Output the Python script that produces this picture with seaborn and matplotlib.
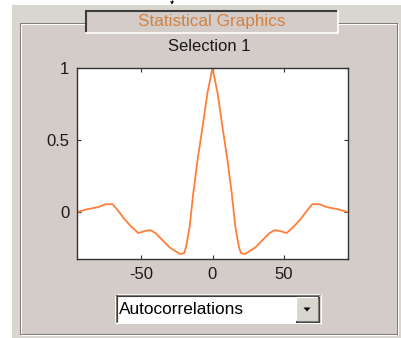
import matplotlib
matplotlib.use("Agg")
import matplotlib.pyplot as plt
import numpy as np
import pandas as pd
import seaborn as sns
from matplotlib.patches import Rectangle, Polygon
from matplotlib.lines import Line2D

# ---- data ----
lags = [-95, -88, -80, -75, -70, -67, -62, -57, -52, -47, -43.5, -40, -35, -30, -26,
        -23, -20, -18.5, -16, -13.5, -10.5, -7, -3.5, 0, 3.5, 7, 10.5, 13.5, 16,
        18.5, 20, 23, 26, 30, 35, 40, 43.5, 47, 52, 57, 62, 67, 70, 75, 80, 88, 95]
acf = [0.0, 0.02, 0.035, 0.055, 0.055, 0.02, -0.045, -0.10, -0.145, -0.13, -0.125,
       -0.145, -0.195, -0.245, -0.27, -0.29, -0.285, -0.24, -0.10, 0.13, 0.36, 0.59,
       0.83, 1.0, 0.83, 0.59, 0.36, 0.13, -0.10, -0.24, -0.285, -0.29, -0.27, -0.245,
       -0.195, -0.145, -0.125, -0.13, -0.145, -0.10, -0.045, 0.02, 0.055, 0.055,
       0.035, 0.02, 0.0]
xticks = [-50, 0, 50]
xticklabels = ["-50", "0", "50"]
yticks = [0, 0.5, 1]
yticklabels = ["0", "0.5", "1"]
title_text = "Statistical Graphics"
axes_title = "Selection 1"
menu_text = "Autocorrelations"

W, H = 401, 338
plt.rcParams["font.family"] = ["Liberation Sans", "DejaVu Sans"]

fig = plt.figure(figsize=(W / 100, H / 100), dpi=100)
fig.patch.set_facecolor("white")

def fx(x):
    return x / W

def fy(y):
    return 1 - y / H

def rect(x0, y0, x1, y1, fc, ec="none", lw=0, z=0):
    fig.patches.append(Rectangle((fx(x0), fy(y1)), fx(x1) - fx(x0), fy(y0) - fy(y1),
                                 transform=fig.transFigure, facecolor=fc, edgecolor=ec,
                                 linewidth=lw, zorder=z))

def hline(x0, x1, y, c, lw=0.75, z=1):
    fig.lines.append(Line2D([fx(x0), fx(x1)], [fy(y), fy(y)], transform=fig.transFigure,
                            color=c, linewidth=lw, zorder=z, solid_capstyle="butt"))

def vline(x, y0, y1, c, lw=0.75, z=1):
    fig.lines.append(Line2D([fx(x), fx(x)], [fy(y0), fy(y1)], transform=fig.transFigure,
                            color=c, linewidth=lw, zorder=z, solid_capstyle="butt"))

outer_gray = "#d9d5cf"
panel_gray = "#d3ccc8"
dark = "#7f7b78"
darker = "#3c3c3c"

# GUI background
rect(12, 5, 401, 338, outer_gray, z=-3)
rect(20, 23, 398, 335, panel_gray, z=-2)
# etched panel border
hline(20, 398, 22.5, dark); hline(21, 397, 23.8, "white")
vline(19.5, 22.5, 335, dark); vline(20.8, 23.8, 334, "white")
hline(20, 398, 333.5, dark); hline(20, 398, 335, "white")
vline(397, 22.5, 335, dark); vline(398.3, 22.5, 335.5, "white")

# title box
rect(85, 10, 338, 33, panel_gray, z=2)
hline(85, 338, 10.5, darker, lw=1.5, z=3)
vline(85.5, 10, 33, darker, lw=1.5, z=3)
hline(85, 338, 33, "white", lw=1.2, z=3)
vline(338, 10, 33.5, "white", lw=1.2, z=3)
fig.text(fx(211.5), fy(21.5), title_text, ha="center", va="center", fontsize=12.3,
         color="#d4823f", zorder=4)

# little arrow at top
vline(172, 0, 2, "black", lw=1.0, z=3)
fig.patches.append(Polygon([(fx(170), fy(1.5)), (fx(174), fy(1.5)), (fx(172), fy(4.5))],
                           closed=True, transform=fig.transFigure, facecolor="black",
                           edgecolor="none", zorder=3))

# axes title
fig.text(fx(209), fy(46.5), axes_title, ha="center", va="center", fontsize=12,
         color="#1a1a1a")

# dropdown
rect(115, 294, 320, 323, "white", z=2)
hline(115, 320, 294.5, dark, lw=0.8, z=3)
hline(116, 319, 295.6, darker, lw=0.8, z=3)
vline(115.5, 294, 323, dark, lw=0.8, z=3)
vline(116.6, 295, 322, darker, lw=0.8, z=3)
hline(115, 320.5, 323, "white", lw=0.8, z=3)
vline(320.5, 294, 323.5, "white", lw=0.8, z=3)
fig.text(fx(118.5), fy(309), menu_text, ha="left", va="center", fontsize=12.4,
         color="black", zorder=4)
# button
rect(296, 297, 319, 322, outer_gray, z=3)
hline(296, 319, 297.3, "white", lw=0.9, z=4)
vline(296.3, 297, 322, "white", lw=0.9, z=4)
hline(296, 319.5, 321.6, darker, lw=1.4, z=4)
vline(318.9, 297, 322, darker, lw=1.4, z=4)
hline(297, 318, 320.5, dark, lw=0.8, z=4)
vline(317.8, 298, 321, dark, lw=0.8, z=4)
fig.patches.append(Polygon([(fx(303.5), fy(307.5)), (fx(310.5), fy(307.5)), (fx(307), fy(311.5))],
                           closed=True, transform=fig.transFigure, facecolor="black",
                           edgecolor="none", zorder=5))

# ---- the chart ----
ax = fig.add_axes([fx(77), fy(259), fx(348) - fx(77), fy(68) - fy(259)])
ax.set_zorder(10)
ax.set_facecolor("white")
df = pd.DataFrame({"lag": lags, "acf": acf})
sns.lineplot(data=df, x="lag", y="acf", ax=ax, color="#ff7f3a", linewidth=1.3,
             estimator=None, sort=False)
ax.set_xlim(-95, 95)
ax.set_ylim(-0.325, 1.0)
ax.set_xticks(xticks)
ax.set_xticklabels(xticklabels)
ax.set_yticks(yticks)
ax.set_yticklabels(yticklabels)
ax.set_xlabel("")
ax.set_ylabel("")
ax.tick_params(direction="in", top=True, right=True, length=3, width=0.8,
               labelsize=12, colors="#333333", labelcolor="#1a1a1a")
ax.tick_params(axis="x", pad=6)
ax.tick_params(axis="y", pad=5.5)
for s in ax.spines.values():
    s.set_color("#333333")
    s.set_linewidth(1.0)
ax.grid(False)
if ax.get_legend():
    ax.get_legend().remove()

fig.savefig("out.png", dpi=100)
